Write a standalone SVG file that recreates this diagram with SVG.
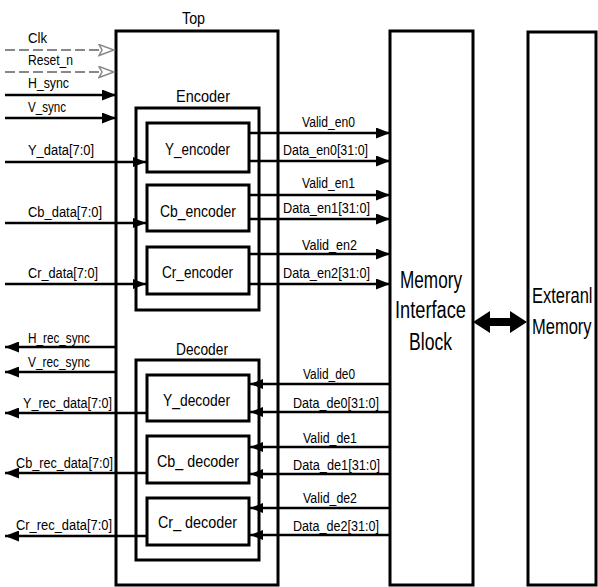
<svg xmlns="http://www.w3.org/2000/svg" width="598" height="587" viewBox="0 0 598 587">
<style>
.box{fill:none;stroke:#000;stroke-width:3}
.t{font-family:"Liberation Sans",Arial,sans-serif;font-size:15.5px;fill:#000}
.tb{font-family:"Liberation Sans",Arial,sans-serif;font-size:16.5px;fill:#000}
.tm{font-family:"Liberation Sans",Arial,sans-serif;font-size:23px;fill:#000}
.te{font-family:"Liberation Sans",Arial,sans-serif;font-size:16.5px;fill:#000}
.w{stroke:#000;stroke-width:2.5;fill:none}
.d{stroke:#888;stroke-width:2;stroke-dasharray:10,4;fill:none}
</style>
<defs>
<marker id="ah" markerUnits="userSpaceOnUse" markerWidth="14" markerHeight="11" refX="14" refY="5.5" orient="auto">
<path d="M0,0 L14,5.5 L0,11 z" fill="#000"/>
</marker>
<marker id="ahs" markerUnits="userSpaceOnUse" markerWidth="13" markerHeight="10" refX="13" refY="5" orient="auto">
<path d="M0,0 L13,5 L0,10 z" fill="#000"/>
</marker>
<marker id="ahh" markerUnits="userSpaceOnUse" markerWidth="18" markerHeight="13" refX="16" refY="6.5" orient="auto">
<path d="M1,1 L16,6.5 L1,12 L4,6.5 z" fill="#fff" stroke="#888" stroke-width="1.5"/>
</marker>
</defs>

<g id="top">
<rect class="box" x="116" y="31" width="162" height="554"/>
<text class="tb" x="182" y="24" textLength="23" lengthAdjust="spacingAndGlyphs">Top</text>
</g>
<g id="encoder">
<rect class="box" x="136" y="108" width="123" height="202"/>
<text class="tb" x="176" y="102" textLength="54" lengthAdjust="spacingAndGlyphs">Encoder</text>
</g>
<g id="y_encoder">
<rect class="box" x="147" y="123" width="102" height="49"/>
<text class="tb" x="165" y="155" textLength="65" lengthAdjust="spacingAndGlyphs">Y_encoder</text>
</g>
<g id="cb_encoder">
<rect class="box" x="147" y="185" width="102" height="46"/>
<text class="tb" x="160" y="217" textLength="76" lengthAdjust="spacingAndGlyphs">Cb_encoder</text>
</g>
<g id="cr_encoder">
<rect class="box" x="147" y="247" width="102" height="47"/>
<text class="tb" x="162" y="278" textLength="71" lengthAdjust="spacingAndGlyphs">Cr_encoder</text>
</g>
<g id="decoder">
<rect class="box" x="136" y="360" width="123" height="200"/>
<text class="tb" x="176" y="355" textLength="52" lengthAdjust="spacingAndGlyphs">Decoder</text>
</g>
<g id="y_decoder">
<rect class="box" x="147" y="375" width="102" height="46"/>
<text class="tb" x="163" y="406" textLength="67" lengthAdjust="spacingAndGlyphs">Y_decoder</text>
</g>
<g id="cb_decoder">
<rect class="box" x="147" y="436" width="102" height="47"/>
<text class="tb" x="157" y="467" textLength="82" lengthAdjust="spacingAndGlyphs">Cb_ decoder</text>
</g>
<g id="cr_decoder">
<rect class="box" x="147" y="498" width="102" height="47"/>
<text class="tb" x="158" y="528" textLength="79" lengthAdjust="spacingAndGlyphs">Cr_ decoder</text>
</g>
<g id="memory_interface">
<rect class="box" x="390" y="31" width="83" height="554"/>
<text class="tm" x="400" y="288" textLength="62" lengthAdjust="spacingAndGlyphs">Memory</text>
<text class="tm" x="395" y="318" textLength="71" lengthAdjust="spacingAndGlyphs">Interface</text>
<text class="tm" x="409" y="350" textLength="43" lengthAdjust="spacingAndGlyphs">Block</text>
</g>
<g id="external_memory">
<rect class="box" x="528" y="32" width="68" height="553"/>
<text class="te" x="532" y="0" transform="translate(0,303) scale(1,1.35)">Exteranl</text>
<text class="te" x="532" y="0" transform="translate(0,334) scale(1,1.35)">Memory</text>
</g>

<g id="connectors">
<line class="d" x1="5" y1="50" x2="114" y2="50" marker-end="url(#ahh)"/>
<line class="d" x1="5" y1="72" x2="114" y2="72" marker-end="url(#ahh)"/>
<line class="w" x1="5" y1="95" x2="116" y2="95" marker-end="url(#ah)"/>
<line class="w" x1="5" y1="118" x2="116" y2="118" marker-end="url(#ah)"/>
<line class="w" x1="5" y1="162" x2="146" y2="162" marker-end="url(#ahs)"/>
<line class="w" x1="5" y1="223" x2="146" y2="223" marker-end="url(#ahs)"/>
<line class="w" x1="5" y1="284" x2="146" y2="284" marker-end="url(#ahs)"/>

<line class="w" x1="249" y1="133" x2="390" y2="133" marker-end="url(#ah)"/>
<line class="w" x1="249" y1="161" x2="390" y2="161" marker-end="url(#ah)"/>
<line class="w" x1="249" y1="195" x2="390" y2="195" marker-end="url(#ah)"/>
<line class="w" x1="249" y1="219" x2="390" y2="219" marker-end="url(#ah)"/>
<line class="w" x1="249" y1="254" x2="390" y2="254" marker-end="url(#ah)"/>
<line class="w" x1="249" y1="284" x2="390" y2="284" marker-end="url(#ah)"/>

<line class="w" x1="116" y1="347" x2="5" y2="347" marker-end="url(#ah)"/>
<line class="w" x1="116" y1="372" x2="5" y2="372" marker-end="url(#ah)"/>
<line class="w" x1="147" y1="413" x2="5" y2="413" marker-end="url(#ah)"/>
<line class="w" x1="147" y1="473" x2="5" y2="473" marker-end="url(#ah)"/>
<line class="w" x1="147" y1="536" x2="5" y2="536" marker-end="url(#ah)"/>

<line class="w" x1="390" y1="384" x2="250" y2="384" marker-end="url(#ahs)"/>
<line class="w" x1="390" y1="412" x2="250" y2="412" marker-end="url(#ahs)"/>
<line class="w" x1="390" y1="447" x2="250" y2="447" marker-end="url(#ahs)"/>
<line class="w" x1="390" y1="474" x2="250" y2="474" marker-end="url(#ahs)"/>
<line class="w" x1="390" y1="508" x2="250" y2="508" marker-end="url(#ahs)"/>
<line class="w" x1="390" y1="535" x2="250" y2="535" marker-end="url(#ahs)"/>

<polygon points="473,322 490,311 490,318 510,318 510,311 527,322 510,333 510,326 490,326 490,333" fill="#000"/>

<text class="t" x="28" y="43" textLength="19" lengthAdjust="spacingAndGlyphs">Clk</text>
<text class="t" x="28" y="65" textLength="45" lengthAdjust="spacingAndGlyphs">Reset_n</text>
<text class="t" x="28" y="88" textLength="41" lengthAdjust="spacingAndGlyphs">H_sync</text>
<text class="t" x="28" y="112" textLength="38" lengthAdjust="spacingAndGlyphs">V_sync</text>
<text class="t" x="28" y="155" textLength="66" lengthAdjust="spacingAndGlyphs">Y_data[7:0]</text>
<text class="t" x="28" y="217" textLength="74" lengthAdjust="spacingAndGlyphs">Cb_data[7:0]</text>
<text class="t" x="28" y="278" textLength="70" lengthAdjust="spacingAndGlyphs">Cr_data[7:0]</text>
<text class="t" x="28" y="343" textLength="62" lengthAdjust="spacingAndGlyphs">H_rec_sync</text>
<text class="t" x="28" y="367" textLength="62" lengthAdjust="spacingAndGlyphs">V_rec_sync</text>
<text class="t" x="23" y="408" textLength="89" lengthAdjust="spacingAndGlyphs">Y_rec_data[7:0]</text>
<text class="t" x="16" y="468" textLength="97" lengthAdjust="spacingAndGlyphs">Cb_rec_data[7:0]</text>
<text class="t" x="16" y="530" textLength="96" lengthAdjust="spacingAndGlyphs">Cr_rec_data[7:0]</text>

<text class="t" x="302" y="127" textLength="53" lengthAdjust="spacingAndGlyphs">Valid_en0</text>
<text class="t" x="283" y="155" textLength="85" lengthAdjust="spacingAndGlyphs">Data_en0[31:0]</text>
<text class="t" x="302" y="188" textLength="53" lengthAdjust="spacingAndGlyphs">Valid_en1</text>
<text class="t" x="283" y="213" textLength="87" lengthAdjust="spacingAndGlyphs">Data_en1[31:0]</text>
<text class="t" x="302" y="250" textLength="55" lengthAdjust="spacingAndGlyphs">Valid_en2</text>
<text class="t" x="283" y="278" textLength="87" lengthAdjust="spacingAndGlyphs">Data_en2[31:0]</text>
<text class="t" x="303" y="379" textLength="52" lengthAdjust="spacingAndGlyphs">Valid_de0</text>
<text class="t" x="293" y="408" textLength="86" lengthAdjust="spacingAndGlyphs">Data_de0[31:0]</text>
<text class="t" x="303" y="443" textLength="54" lengthAdjust="spacingAndGlyphs">Valid_de1</text>
<text class="t" x="293" y="470" textLength="87" lengthAdjust="spacingAndGlyphs">Data_de1[31:0]</text>
<text class="t" x="303" y="503" textLength="54" lengthAdjust="spacingAndGlyphs">Valid_de2</text>
<text class="t" x="293" y="531" textLength="86" lengthAdjust="spacingAndGlyphs">Data_de2[31:0]</text>
</g>
</svg>
